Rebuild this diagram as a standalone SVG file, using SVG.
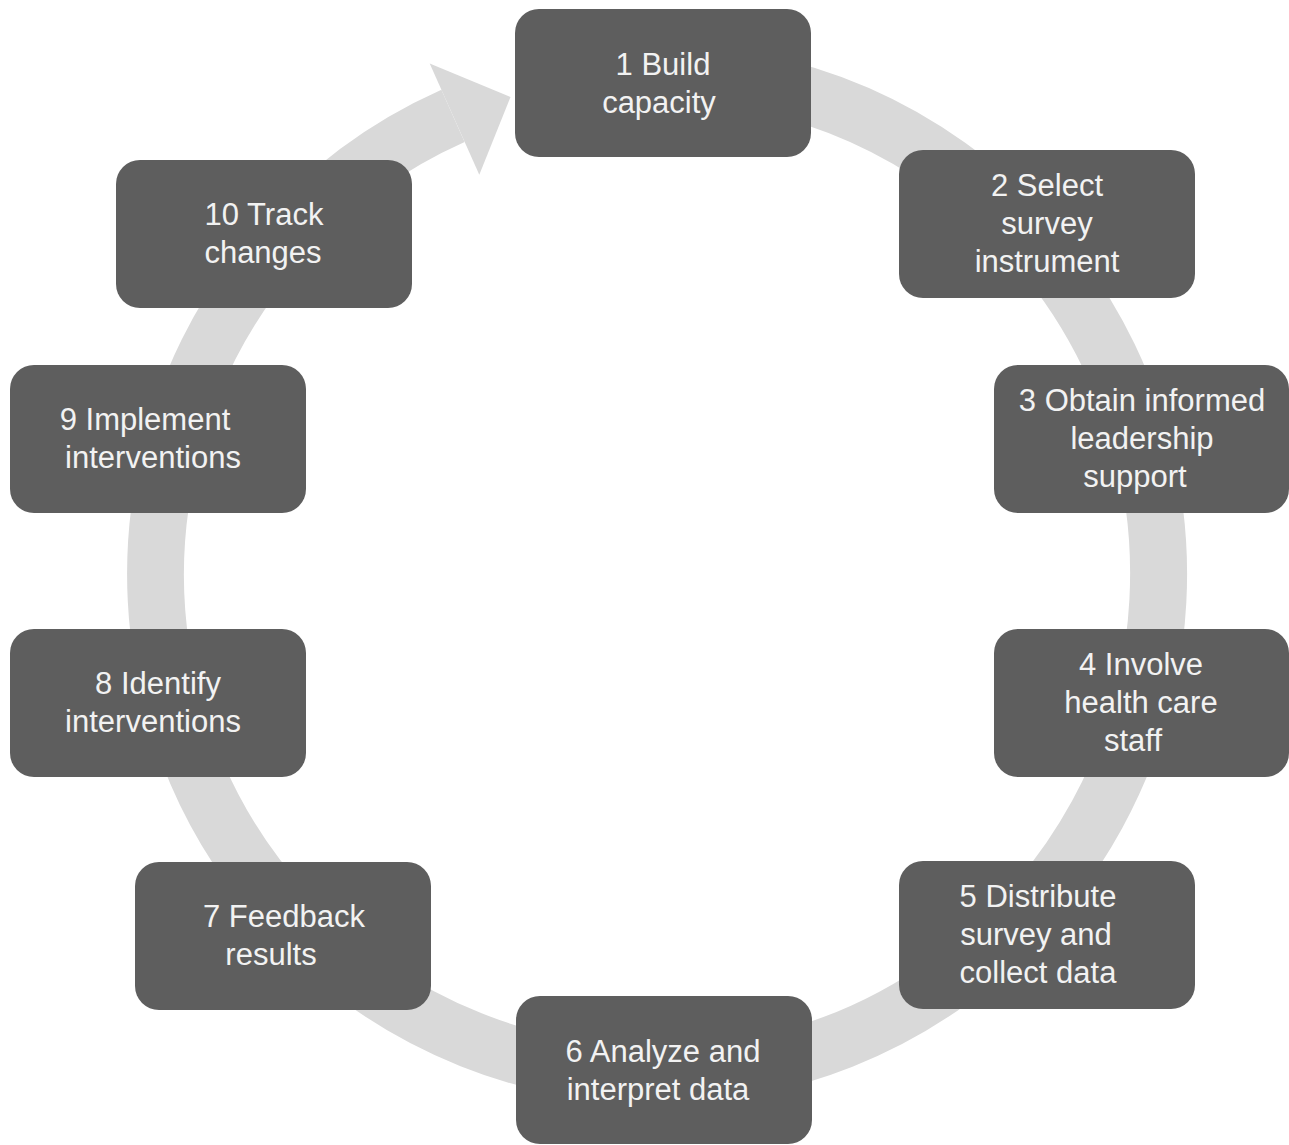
<svg xmlns="http://www.w3.org/2000/svg" width="1289" height="1145" viewBox="0 0 1289 1145">
  <style>
    .box { fill: #5e5e5e; }
    .lbl { fill: #f2f2f2; font-family: "Liberation Sans", Arial, Helvetica, sans-serif; font-size: 31px; text-anchor: middle; }
    .ring { fill: none; stroke: #d9d9d9; stroke-width: 57; }
    .head { fill: #d9d9d9; }
  </style>
  <rect width="1289" height="1145" fill="#ffffff"/>

  <!-- circular flow: ring running clockwise from step 1 back to step 1 -->
  <g id="connectors">
    <path class="ring" d="M 744.1 80.1 A 501.5 501.5 0 1 1 453.0 115.9"/>
    <polygon class="head" points="429.7,63.4 510.5,97 479.3,174.8"/>
  </g>

  <g id="step1">
    <rect class="box" x="515" y="9" width="296" height="148" rx="24"/>
    <text class="lbl"><tspan x="663" y="75">1 Build</tspan><tspan x="659" y="113">capacity</tspan></text>
  </g>
  <g id="step2">
    <rect class="box" x="899" y="150" width="296" height="148" rx="24"/>
    <text class="lbl"><tspan x="1047" y="196">2 Select</tspan><tspan x="1047" y="234">survey</tspan><tspan x="1047" y="272">instrument</tspan></text>
  </g>
  <g id="step3">
    <rect class="box" x="994" y="365" width="295" height="148" rx="24"/>
    <text class="lbl"><tspan x="1142" y="411">3 Obtain informed</tspan><tspan x="1142" y="449">leadership</tspan><tspan x="1135" y="487">support</tspan></text>
  </g>
  <g id="step4">
    <rect class="box" x="994" y="629" width="295" height="148" rx="24"/>
    <text class="lbl"><tspan x="1141" y="675">4 Involve</tspan><tspan x="1141" y="713">health care</tspan><tspan x="1133" y="751">staff</tspan></text>
  </g>
  <g id="step5">
    <rect class="box" x="899" y="861" width="296" height="148" rx="24"/>
    <text class="lbl"><tspan x="1038" y="907">5 Distribute</tspan><tspan x="1036" y="945">survey and</tspan><tspan x="1038" y="983">collect data</tspan></text>
  </g>
  <g id="step6">
    <rect class="box" x="516" y="996" width="296" height="148" rx="24"/>
    <text class="lbl"><tspan x="663" y="1062">6 Analyze and</tspan><tspan x="658" y="1100">interpret data</tspan></text>
  </g>
  <g id="step7">
    <rect class="box" x="135" y="862" width="296" height="148" rx="24"/>
    <text class="lbl"><tspan x="284" y="927">7 Feedback</tspan><tspan x="271" y="965">results</tspan></text>
  </g>
  <g id="step8">
    <rect class="box" x="10" y="629" width="296" height="148" rx="24"/>
    <text class="lbl"><tspan x="158" y="694">8 Identify</tspan><tspan x="153" y="732">interventions</tspan></text>
  </g>
  <g id="step9">
    <rect class="box" x="10" y="365" width="296" height="148" rx="24"/>
    <text class="lbl"><tspan x="145" y="430">9 Implement</tspan><tspan x="153" y="468">interventions</tspan></text>
  </g>
  <g id="step10">
    <rect class="box" x="116" y="160" width="296" height="148" rx="24"/>
    <text class="lbl"><tspan x="264" y="225">10 Track</tspan><tspan x="263" y="263">changes</tspan></text>
  </g>
</svg>
